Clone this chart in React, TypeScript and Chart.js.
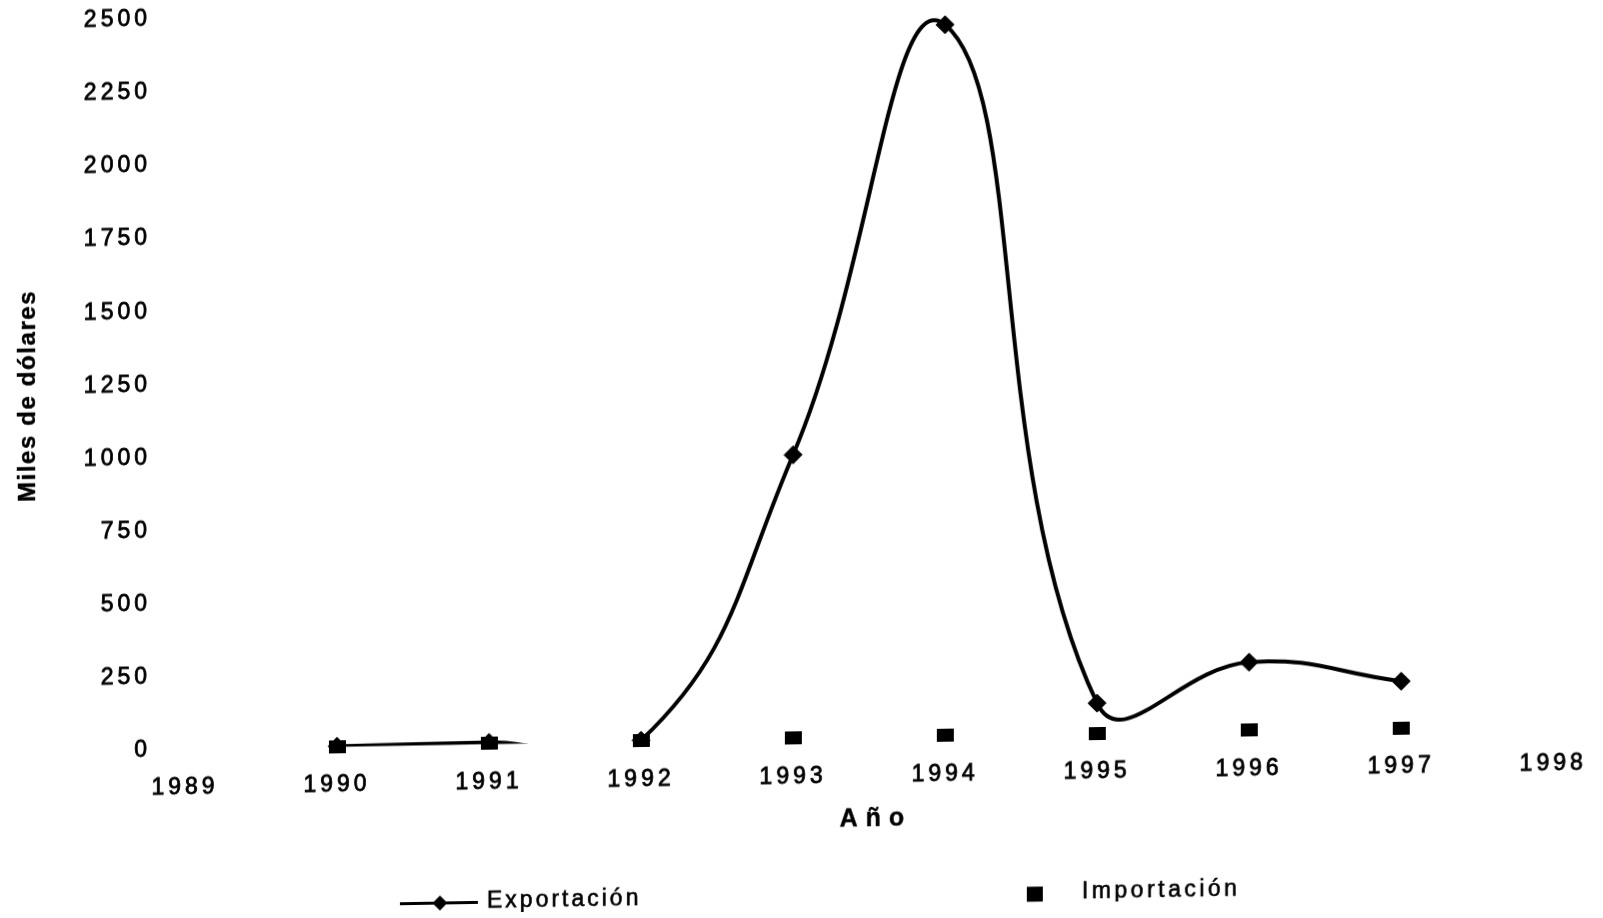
import { useEffect, useRef } from 'react';
import { Chart, registerables } from 'chart.js';

Chart.register(...registerables);

// Export / import values by year (thousands of dollars)
const years = [1990, 1991, 1992, 1993, 1994, 1995, 1996, 1997];
const exportacion = [2, 6, 4, 972, 2435, 104, 235, 161];
const importacion = [0, 3, 2, 3, 4, 1, 2, 0];

const yearMin = 1989;
const yearMax = 1998;
const valueMin = 0;
const valueMax = 2500;
const valueStep = 250;

const yTitle = 'Miles de dólares';
const xTitle = 'Año';
const seriesNames = ['Exportación', 'Importación'];

const FONT = "'Liberation Sans', Arial, Helvetica, sans-serif";
const W = 1603;
const H = 918;

function spacedText(
  ctx: CanvasRenderingContext2D,
  text: string,
  x: number,
  y: number,
  spacing: number,
  align: 'left' | 'center' | 'right',
  stroke = 0.6,
) {
  (ctx as any).letterSpacing = spacing + 'px';
  const w = ctx.measureText(text).width - spacing;
  const left = align === 'center' ? x - w / 2 : align === 'right' ? x - w : x;
  ctx.textAlign = 'left';
  ctx.textBaseline = 'middle';
  if (stroke > 0) {
    ctx.lineWidth = stroke;
    ctx.strokeText(text, left, y);
  }
  ctx.fillText(text, left, y);
}

const textPlugin = {
  id: 'chartText',
  beforeDraw(chart: any) {
    (chart.ctx as any).letterSpacing = '4px';
  },
  afterDraw(chart: any) {
    const ctx: CanvasRenderingContext2D = chart.ctx;
    ctx.save();
    ctx.fillStyle = '#000';
    ctx.strokeStyle = '#000';

    // vertical axis title
    ctx.save();
    ctx.translate(28, 394);
    ctx.rotate(-Math.PI / 2);
    ctx.font = `bold 24px ${FONT}`;
    spacedText(ctx, yTitle, 0, 0, 1.6, 'center', 0.4);
    ctx.restore();

    // horizontal axis title
    ctx.font = `bold 25px ${FONT}`;
    spacedText(ctx, xTitle, 872, 831, 8, 'center', 0.4);

    // legend: line with diamond
    ctx.lineWidth = 3;
    ctx.beginPath();
    ctx.moveTo(400, 907.5);
    ctx.lineTo(478, 907.5);
    ctx.stroke();
    ctx.beginPath();
    ctx.moveTo(440 - 7.5, 907.5);
    ctx.lineTo(440, 907.5 - 7.5);
    ctx.lineTo(440 + 7.5, 907.5);
    ctx.lineTo(440, 907.5 + 7.5);
    ctx.closePath();
    ctx.fill();
    ctx.font = `23px ${FONT}`;
    spacedText(ctx, seriesNames[0], 487, 906.5, 3, 'left');

    // legend: square marker
    ctx.fillRect(1027, 901.5, 16, 15);
    ctx.font = `23px ${FONT}`;
    spacedText(ctx, seriesNames[1], 1082, 908, 3.5, 'left');

    ctx.restore();
  },
};

function makeSquare(): HTMLCanvasElement {
  const c = document.createElement('canvas');
  c.width = 17;
  c.height = 13;
  const g = c.getContext('2d')!;
  g.fillStyle = '#000';
  g.fillRect(0, 0, 17, 13);
  return c;
}

export default function App() {
  const ref = useRef<HTMLCanvasElement | null>(null);

  useEffect(() => {
    if (!ref.current) return;
    const tickFont = { family: FONT, size: 23, weight: 'normal' as const };
    const chart = new Chart(ref.current, {
      type: 'line',
      data: {
        datasets: [
          {
            label: seriesNames[0],
            data: years.map((y, i) => ({ x: y, y: exportacion[i] })),
            borderColor: '#000',
            backgroundColor: '#000',
            borderWidth: 4,
            tension: 0.45,
            capBezierPoints: false,
            pointStyle: 'rectRot',
            pointRadius: 9,
            pointBorderWidth: 1,
            pointBorderColor: '#000',
            pointBackgroundColor: '#000',
            order: 1,
          },
          {
            label: seriesNames[1],
            data: years.map((y, i) => ({ x: y, y: importacion[i] })),
            showLine: false,
            borderColor: '#000',
            backgroundColor: '#000',
            pointStyle: makeSquare(),
            pointRadius: 8,
            order: 0,
            clip: false,
          },
        ],
      },
      options: {
        responsive: false,
        animation: false,
        devicePixelRatio: 1,
        layout: { padding: { top: 19, right: 45, left: 0, bottom: 0 } },
        plugins: {
          legend: { display: false },
          tooltip: { enabled: false },
        },
        scales: {
          x: {
            type: 'linear',
            min: yearMin,
            max: yearMax,
            grid: { display: false, drawTicks: false },
            border: { display: false },
            ticks: {
              stepSize: 1,
              autoSkip: false,
              maxRotation: 0,
              padding: 24,
              color: '#000',
              font: tickFont,
              textStrokeColor: '#000',
              textStrokeWidth: 0.8,
              callback: (v: any) => String(v),
            },
            afterFit: (s: any) => {
              s.height = H - 749.5;
            },
          },
          y: {
            min: valueMin,
            max: valueMax,
            grid: { display: false, drawTicks: false },
            border: { display: false },
            ticks: {
              stepSize: valueStep,
              padding: 34,
              color: '#000',
              font: tickFont,
              textStrokeColor: '#000',
              textStrokeWidth: 0.8,
              callback: (v: any) => String(v),
            },
            afterFit: (s: any) => {
              s.width = 185;
              s.paddingTop = 0;
              s.paddingBottom = 0;
            },
          },
        },
      },
      plugins: [textPlugin],
    } as any);
    return () => chart.destroy();
  }, []);

  return (
    <div
      style={{
        position: 'fixed',
        left: 0,
        top: 0,
        width: W,
        height: H,
        overflow: 'hidden',
        background: '#fff',
      }}
    >
      <canvas
        ref={ref}
        width={W}
        height={H}
        style={{
          position: 'absolute',
          left: 0,
          top: 0,
          display: 'block',
          transform: 'skewY(-1deg)',
          transformOrigin: '185px 750px',
        }}
      />
    </div>
  );
}
